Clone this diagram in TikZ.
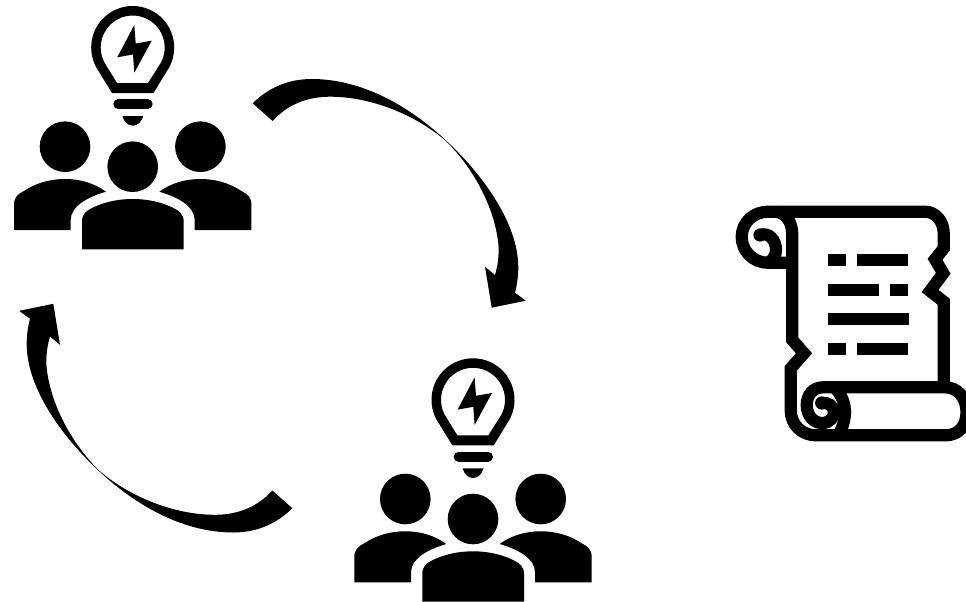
\documentclass[tikz,border=0pt]{standalone}
\newcommand{\ideagroup}{%
    \fill[even odd rule] (112,93) -- (153.5,93) -- (166.7,71.3)
      arc[start angle=35,end angle=-215,radius=41.5pt] -- cycle
      (117,83) -- (148,83) -- (158.9,65.9)
      arc[start angle=35,end angle=-215,radius=32pt] -- cycle;
    \fill (134.3,25) -- (117.3,57.3) -- (133,54.5) -- (134.3,72.7) -- (151.7,40.7) -- (135.7,43.5) -- cycle;
    \draw[line width=10pt,line cap=round] (118.3,104.3) -- (147.7,104.3);
    \fill (122.3,116) .. controls (124,122) and (128,125.7) .. (132.8,125.7)
      .. controls (137.5,125.7) and (141.5,122) .. (143.3,116) -- cycle;
    \fill (65,146.7) circle[radius=25.3pt];
    \fill (200.4,146.7) circle[radius=25.3pt];
    \fill (132.7,166.7) circle[radius=25.3pt];
    \fill (82,249.3) -- (82,222) .. controls (82,214) and (86,211) .. (92,208)
      .. controls (104,202) and (118,199) .. (132.7,199)
      .. controls (147.4,199) and (161.4,202) .. (173.4,208)
      .. controls (179.4,211) and (183.7,214) .. (183.7,222) -- (183.7,249.3) -- cycle;
    \foreach \sx/\dx in {1/0,-1/265.4}{
      \begin{scope}[shift={(\dx,0)},xscale=\sx]
        \fill (14,230) -- (14,205) .. controls (14,197) and (18,194) .. (24,191)
          .. controls (36,183) and (50,179) .. (65,179)
          .. controls (80,179) and (94,183) .. (106,191.7)
          .. controls (88,197) and (70.7,206) .. (70.7,220) -- (70.7,230) -- cycle;
      \end{scope}
    }%
}
\newcommand{\curvedarrow}{%
  \fill (252.7,103.3) .. controls (268,88) and (288,79) .. (311.7,79)
    .. controls (360,79) and (405,104) .. (440,135)
    .. controls (485,175) and (518,225) .. (518.3,266.7)
    .. controls (518.4,276) and (517,285) .. (515,292.7)
    -- (525.7,300.7) -- (491.7,307.7) -- (485,266.7) -- (495,275)
    .. controls (499,262) and (499,250) .. (498.3,243.3)
    .. controls (494,205) and (472,167) .. (446.7,141.7)
    .. controls (420,118) and (375,96.7) .. (330,96.7)
    .. controls (308,96.7) and (288,104) .. (272.7,121) -- cycle;%
}
\tikzset{
  scrollline/.style={line width=12.2pt,line join=miter,line cap=butt},
  textbar/.style={fill=black}
}
\begin{document}
\begin{tikzpicture}[x=1pt,y=1pt,yscale=-1]
\useasboundingbox (0,0) rectangle (966,602);
\clip (0,0) rectangle (966,602);
\begin{scope}\ideagroup\end{scope}
\begin{scope}[shift={(340.3,352.3)}]\ideagroup\end{scope}
\begin{scope}\curvedarrow\end{scope}
\begin{scope}[shift={(545,611.5)},scale=-1]\curvedarrow\end{scope}
% scroll
\begin{scope}[scrollline]
\draw (792.3,262.7) -- (768,262.7) .. controls (752,262.7) and (741.7,250) .. (741.7,237)
  .. controls (741.7,222) and (754,211.7) .. (768,211.7) -- (925,211.7)
  .. controls (936,211.7) and (943.7,222) .. (943.7,233) -- (943.7,248.3)
  -- (935,259.3) -- (943.3,273.3) -- (930,291) -- (943.7,301.7) -- (943.7,387.3);
\draw (776,211.7) .. controls (786,213) and (792.3,222) .. (792.3,235) -- (792.3,340)
  -- (804,353.3) -- (790.7,368.3) -- (790.7,410)
  .. controls (790.7,425) and (802,435.3) .. (816,435.3) -- (945,435.3)
  .. controls (960,435.3) and (966.5,425) .. (966.5,412)
  .. controls (966.5,398) and (958,387.3) .. (945,387.3) -- (823,387.3)
  .. controls (813,387.3) and (806.7,395) .. (806.7,405)
  .. controls (806.7,416) and (814,423) .. (822,423)
  .. controls (830,423) and (834,417) .. (834,412)
  .. controls (834,406) and (828,402) .. (821.7,403);
\draw (835,388) .. controls (842,395) and (845,404) .. (845,412)
  .. controls (845,420) and (842,430) .. (838,435.3);
\draw (760,235) .. controls (769,232) and (776,240) .. (776,250) .. controls (776,256) and (773,260) .. (768,262.7);
\end{scope}
\fill (760,235) circle[radius=6.6pt];
\fill (821.7,403) circle[radius=6.6pt];
\foreach \xa/\xb/\ya/\yb in {828/846/254/266, 857/908/254/266, 828/879/284/296, 890/908/284/296, 828/909/312.7/324.7, 828/846/343/355, 857/908/343/355}
  \path[textbar] (\xa,\ya) rectangle (\xb,\yb);
\end{tikzpicture}
\end{document}
